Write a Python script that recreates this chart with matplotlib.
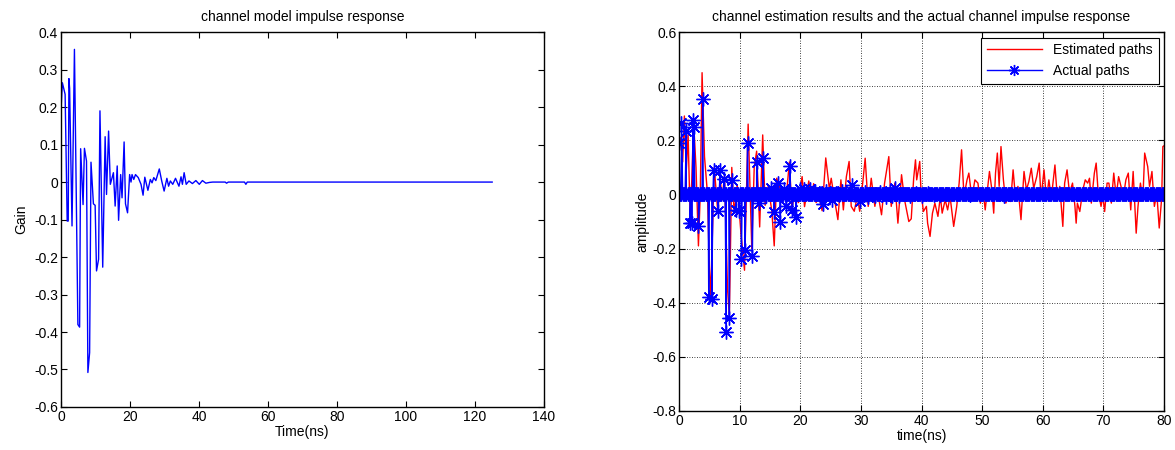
import numpy as np
import matplotlib
matplotlib.use("Agg")
import matplotlib.pyplot as plt

plt.rcParams['font.family'] = ['Liberation Sans', 'DejaVu Sans']

# channel model impulse response (left)
path_t = [0, 0.4, 1.2, 1.8, 2.1, 2.3, 2.5, 3.2, 3.9, 4.9, 5.4, 5.7, 6.4, 6.8, 7.4,
          7.8, 8.3, 8.7, 9.4, 9.9, 10.3, 10.9, 11.3, 12.1, 12.8, 13.2, 13.8, 14.3,
          15.2, 15.7, 16.3, 16.7, 17.3, 17.7, 18.3, 18.7, 19.3, 19.9, 20.3, 20.6,
          21.1, 21.6, 22.4, 23.2, 23.8, 24.3, 25.2, 25.9, 26.4, 26.9, 27.5, 28.5,
          29.2, 29.9, 30.7, 31.2, 31.7, 32.4, 33.2, 34.2, 34.8, 35.2, 35.7, 36.3,
          37.1, 38.1, 39.1, 40.1, 41.0, 42.0, 43.0, 44.0, 47.6, 48.0, 48.5, 53.2,
          53.6, 54.0, 125]
path_gain = [0.19, 0.265, 0.234, -0.104, -0.104, 0.276, 0.25, -0.117, 0.354, -0.38,
             -0.387, 0.089, -0.06, 0.09, 0.056, -0.508, -0.455, 0.053, -0.058, -0.062,
             -0.237, -0.206, 0.19, -0.227, 0.121, -0.033, 0.136, -0.006, 0.025, -0.064,
             0.043, -0.102, 0.02, -0.042, 0.107, -0.058, -0.082, 0.02, 0.0, 0.02, 0.007,
             0.02, 0.012, -0.006, -0.035, 0.013, -0.022, 0.007, -0.002, 0.012, 0.004,
             0.035, 0.003, -0.024, 0.01, -0.011, 0.003, -0.006, 0.01, -0.011, 0.014,
             -0.006, 0.025, -0.006, 0.003, -0.004, 0.004, -0.006, 0.004, -0.003, -0.001,
             0.0, 0.0, -0.003, 0.0, 0.0, -0.006, 0.0, 0.0]

# estimated channel (right, red)
est_t = [0, 0.3, 0.6, 0.88, 1.2, 1.5, 1.8, 2.1, 2.4, 2.8, 3.2, 3.5, 3.8, 4.2, 4.7, 5.0,
         5.2, 5.5, 5.8, 6.1, 6.4, 6.8, 7.1, 7.5, 8.0, 8.3, 8.7, 9.1, 9.6, 10.2, 10.8,
         11.4, 12.0, 12.4, 12.8, 13.3, 13.8, 14.2, 14.7, 15.3, 15.7, 16.1, 16.7, 17.2,
         17.8, 18.2, 18.6, 19.1, 19.7, 20.3, 20.7, 21.4, 21.8, 22.2, 22.6, 23.1, 23.6,
         24.2, 24.8, 25.1, 25.7, 26.2, 26.7, 27.1, 27.6, 28.05, 28.4, 28.9, 29.4, 29.8,
         30.4, 30.7, 31.2, 31.7, 32.3, 32.7, 33.4, 33.9, 34.6, 35.0, 35.6, 36.1, 36.7,
         37.2, 37.9, 38.3, 38.7, 39.0, 39.2, 39.7, 39.9, 40.3, 40.8, 41.0, 41.4, 41.8,
         42.2, 42.7, 43.1, 43.4, 43.9, 44.3, 44.7, 45.3, 45.8, 46.2, 46.6, 47.0, 47.5,
         47.8, 48.3, 48.8, 49.3, 49.7, 50.1, 50.5, 51.2, 51.6, 51.9, 52.2, 52.5, 52.8,
         53.1, 53.5, 53.9, 54.3, 54.7, 55.1, 55.5, 55.9, 56.4, 56.9, 57.3, 57.7, 58.1,
         58.5, 59.0, 59.4, 59.7, 60.2, 60.6, 61.0, 61.4, 62.0, 62.4, 62.8, 63.3, 63.6,
         64.0, 64.4, 64.9, 65.3, 65.5, 65.7, 66.1, 66.6, 67.0, 67.4, 67.7, 68.0, 68.5,
         68.8, 69.1, 69.6, 69.9, 70.2, 70.6, 70.9, 71.3, 71.7, 72.1, 72.5, 72.9, 73.3,
         73.7, 74.1, 74.5, 74.9, 75.4, 75.7, 76.1, 76.5, 76.8, 77.3, 77.6, 78.0, 78.4,
         78.8, 79.2, 79.6, 79.8, 80.0]
est_amp = [0.15, 0.21, 0.12, 0.29, 0.09, 0.22, -0.06, 0.05, 0.27, 0.10, -0.19, 0.0,
           0.45, 0.14, 0.0, -0.27, -0.38, -0.15, 0.10, 0.02, -0.07, 0.06, -0.02, 0.07,
           -0.35, -0.45, 0.10, -0.07, 0.035, -0.14, -0.28, 0.26, -0.20, 0.10, 0.16,
           -0.12, 0.22, -0.04, 0.03, -0.06, -0.19, 0.06, 0.02, -0.02, 0.02, 0.12, -0.05,
           0.0, -0.03, 0.066, -0.045, 0.05, -0.02, 0.04, -0.03, -0.01, -0.06, 0.135,
           0.02, 0.06, -0.026, -0.093, 0.054, -0.057, 0.066, 0.122, -0.044, -0.062,
           -0.007, -0.062, 0.066, 0.134, -0.044, 0.06, -0.044, 0.017, -0.075, 0.042,
           0.14, -0.044, 0.042, -0.106, 0.073, -0.02, -0.1, -0.09, 0.06, 0.128, 0.054,
           0.122, 0.017, -0.063, -0.044, -0.106, -0.155, -0.069, -0.032, -0.081, -0.007,
           -0.069, -0.02, -0.057, -0.007, -0.118, -0.044, 0.042, 0.165, -0.007, 0.054,
           0.079, -0.014, 0.054, 0.042, -0.032, 0.023, -0.057, 0.085, 0.017, -0.069,
           0.079, 0.153, 0.03, 0.177, 0.054, -0.032, -0.007, -0.026, 0.091, -0.014,
           0.03, -0.093, 0.085, 0.017, 0.048, 0.097, 0.023, 0.066, 0.116, -0.014, 0.091,
           -0.02, 0.054, -0.014, 0.109, -0.014, 0.03, -0.118, 0.042, 0.091, 0.005,
           0.042, -0.044, -0.106, -0.032, -0.063, 0.017, 0.054, 0.042, 0.06, -0.032,
           0.079, 0.116, 0.017, -0.044, -0.007, -0.063, 0.042, 0.042, -0.032, 0.079,
           -0.007, 0.066, 0.03, -0.007, 0.054, 0.079, -0.057, 0.085, -0.143, -0.044,
           0.042, -0.02, 0.153, 0.103, 0.03, 0.085, -0.044, 0.005, -0.124, -0.014,
           0.177, 0.18]

# actual paths on the estimation time grid (right, blue)
grid_step = 0.2
grid_t = np.arange(0, 80 + 1e-9, grid_step)
pt = np.array(path_t)
pg = np.array(path_gain)
keep = pt <= 80
act_t = np.concatenate([grid_t, pt[keep]])
act_v = np.concatenate([np.zeros_like(grid_t), pg[keep]])
order = np.argsort(act_t, kind='stable')
act_t, act_v = act_t[order], act_v[order]


def fmt(vals):
    return ['%g' % (0.0 if abs(v) < 1e-9 else v) for v in vals]


fig = plt.figure(figsize=(11.75, 4.5), dpi=100)
ax1 = fig.add_axes([0.0519, 0.0956, 0.411, 0.833])
ax2 = fig.add_axes([0.5779, 0.0867, 0.4128, 0.842])

fs = 10
asterisk = (8, 2, 0)

# left
ax1.plot(path_t, path_gain, color='blue', lw=1.0)
ax1.set_xlim(0, 140)
ax1.set_ylim(-0.6, 0.4)
ax1.set_xticks(np.arange(0, 141, 20))
yt1 = np.round(np.arange(-0.6, 0.41, 0.1), 1)
ax1.set_yticks(yt1)
ax1.set_yticklabels(fmt(yt1))
ax1.set_xlabel('Time(ns)', fontsize=fs, labelpad=1)
ax1.set_ylabel('Gain', fontsize=fs, labelpad=4)
ax1.set_title('channel model impulse response', fontsize=fs, pad=8)

# right
ax2.plot(est_t, est_amp, color='red', lw=1.0, label='Estimated paths')
ax2.plot(act_t, act_v, color='blue', lw=1.0, marker=asterisk, ms=10, mew=1.0,
         label='Actual paths')
ax2.set_xlim(0, 80)
ax2.set_ylim(-0.8, 0.6)
ax2.set_xticks(np.arange(0, 81, 10))
yt2 = np.round(np.arange(-0.8, 0.61, 0.2), 1)
ax2.set_yticks(yt2)
ax2.set_yticklabels(fmt(yt2))
ax2.grid(True, color='black', linestyle=(0, (1, 2)), lw=0.6)
ax2.set_xlabel('time(ns)', fontsize=fs, labelpad=1)
ax2.set_ylabel('amplitude', fontsize=fs, labelpad=2)
ax2.set_title('channel estimation results and the actual channel impulse response',
              fontsize=fs, pad=8)
leg = ax2.legend(loc='upper right', fontsize=fs, fancybox=False, framealpha=1,
                 edgecolor='black', handlelength=4.0, borderaxespad=0.4)
leg.get_frame().set_linewidth(0.8)
leg.legend_handles[1].set_markersize(8)

for ax in (ax1, ax2):
    ax.tick_params(direction='in', top=True, right=True, labelsize=fs, length=4, pad=2)
    for s in ax.spines.values():
        s.set_linewidth(1.0)

fig.savefig('out.png', dpi=100)
